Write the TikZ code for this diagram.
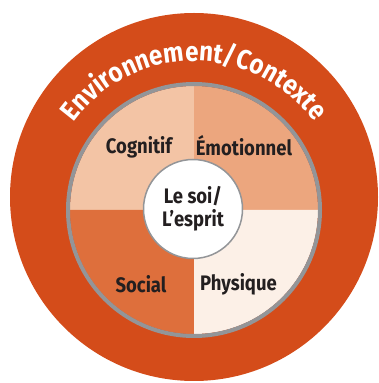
\documentclass[tikz,border=0pt]{standalone}
\usepackage{fontspec}
\setmainfont{Fira Sans}[FakeStretch=0.88]
\usetikzlibrary{decorations.text}
\definecolor{envcol}{HTML}{D44C1A}
\definecolor{cogcol}{HTML}{F3C4A5}
\definecolor{emocol}{HTML}{ECA67E}
\definecolor{soccol}{HTML}{DE6F3C}
\definecolor{phycol}{HTML}{FCF0E7}
\definecolor{ringcol}{HTML}{939598}
\definecolor{txtcol}{HTML}{231F20}
\tikzset{
  lab/.style={font=\fontsize{21}{23}\selectfont\bfseries, text=txtcol, inner sep=0pt},
}
\begin{document}
\begin{tikzpicture}[x=1pt,y=1pt]
\useasboundingbox (0,0) rectangle (378,383);
\clip (0,0) rectangle (378,383);
% outer environment disc
\fill[envcol] (194,186) circle (184);
% quadrants
\coordinate (c) at (194,173);
\fill[cogcol] (c) -- ++(-124,0) arc (180:90:124) -- cycle;
\fill[emocol] (c) -- ++(0,124) arc (90:0:124) -- cycle;
\fill[soccol] (c) -- ++(0,-124) arc (270:180:124) -- cycle;
\fill[phycol] (c) -- ++(124,0) arc (0:-90:124) -- cycle;
\draw[ringcol, line width=4] (c) circle (126);
% centre
\node[circle, fill=white, draw=ringcol, line width=1.5, minimum size=99, inner sep=0pt,
      font=\fontsize{21}{23}\selectfont\bfseries, text=txtcol, align=center] (soi) at (193,174) {Le soi/\\L’esprit};
\node[lab] (cog) at (139,236) {Cognitif};
\node[lab] (emo) at (244,237) {Émotionnel};
\node[lab] (soc) at (141,99) {Social};
\node[lab] (phy) at (238.5,99) {Physique};
% arc text
\path[decorate, decoration={text along path, text align=center,
  text={|\fontsize{27.5}{27.5}\selectfont\bfseries\color{white}|Environnement/Contexte}}]
  (c) ++(160:149) arc (160:20:149);
\end{tikzpicture}
\end{document}
